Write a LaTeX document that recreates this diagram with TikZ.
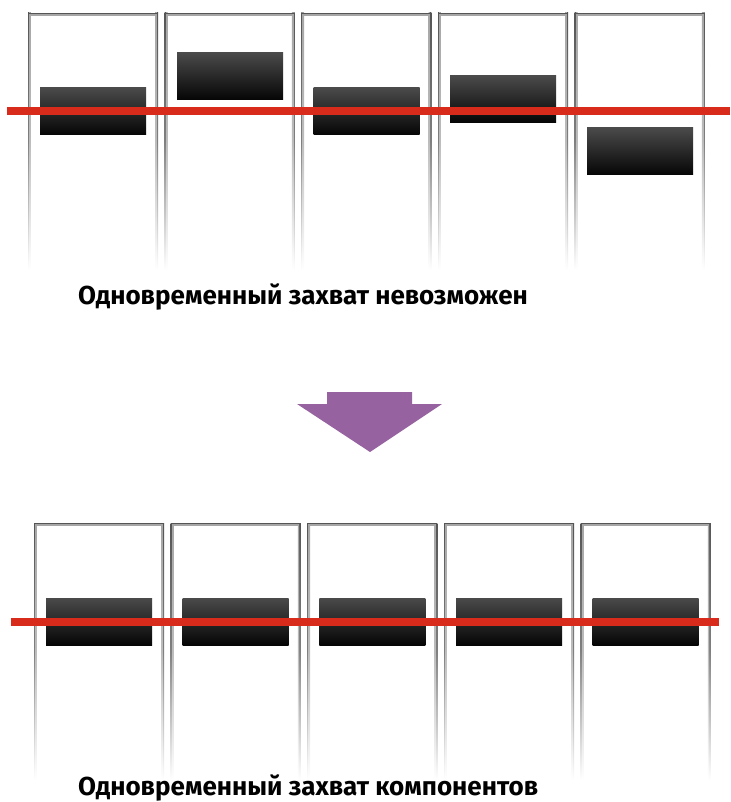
\documentclass[tikz,border=0pt]{standalone}
\usepackage{fontspec}
\setmainfont{Fira Sans}
\definecolor{edgedark}{HTML}{555555}
\definecolor{edgelight}{HTML}{A6A6A6}
\definecolor{blocktop}{HTML}{4A4A4A}
\definecolor{blockbot}{HTML}{050505}
\definecolor{lockred}{HTML}{D92B1C}
\definecolor{arrowpurple}{HTML}{9662A0}
\tikzset{
  panel/.style={minimum width=130, minimum height=257, inner sep=0,
    path picture={
      \fill[top color=edgedark, bottom color=white, middle color=edgedark!75] (path picture bounding box.north west) rectangle ([xshift=1.4pt]path picture bounding box.south west);
      \fill[top color=edgelight, bottom color=white, middle color=edgelight!75] ([xshift=1.4pt]path picture bounding box.north west) rectangle ([xshift=2.8pt]path picture bounding box.south west);
      \fill[top color=edgedark, bottom color=white, middle color=edgedark!75] ([xshift=-1.4pt]path picture bounding box.north east) rectangle (path picture bounding box.south east);
      \fill[top color=edgelight, bottom color=white, middle color=edgelight!75] ([xshift=-2.8pt]path picture bounding box.north east) rectangle ([xshift=-1.4pt]path picture bounding box.south east);
      \fill[edgedark] (path picture bounding box.north west) rectangle ([yshift=-1.4pt]path picture bounding box.north east);
      \fill[edgelight] ([xshift=1.4pt,yshift=-1.4pt]path picture bounding box.north west) rectangle ([xshift=-1.4pt,yshift=-2.8pt]path picture bounding box.north east);
    }},
  block/.style={minimum width=106, minimum height=47, inner sep=0, top color=blocktop, bottom color=blockbot},
  lockline/.style={lockred, line width=8pt},
  caption/.style={anchor=base west, inner sep=0, font=\fontsize{26}{30}\selectfont\bfseries}
}
\begin{document}
\begin{tikzpicture}[x=1pt,y=-1pt]
\useasboundingbox (0,0) rectangle (730,802);
% top row
\node[panel] (t1) at (93,141.5) {};
\node[panel] (t2) at (229.7,141.5) {};
\node[panel] (t3) at (366.3,141.5) {};
\node[panel] (t4) at (503,141.5) {};
\node[panel] (t5) at (639.7,141.5) {};
\node[block] (tb1) at (93,111.5) {};
\node[block] (tb2) at (230,76.5) {};
\node[block] (tb3) at (366.5,111.5) {};
\node[block] (tb4) at (503,99.5) {};
\node[block] (tb5) at (640,151.5) {};
\coordinate (tw) at (7,111.5);
\coordinate (te) at (730,111.5);
\draw[lockline] (tw) -- (te);
\node[caption] (cap1) at (78,304) {Одновременный захват невозможен};
% arrow
\fill[arrowpurple] (327,392) -- (412,392) -- (412,404) -- (442,404) -- (370,452) -- (297,404) -- (327,404) -- cycle;
% bottom row
\node[panel] (b1) at (99,651.5) {};
\node[panel] (b2) at (235.6,651.5) {};
\node[panel] (b3) at (372.3,651.5) {};
\node[panel] (b4) at (509,651.5) {};
\node[panel] (b5) at (645.6,651.5) {};
\node[block] (bb1) at (99,621.5) {};
\node[block] (bb2) at (235.6,621.5) {};
\node[block] (bb3) at (372.3,621.5) {};
\node[block] (bb4) at (509,621.5) {};
\node[block] (bb5) at (645.6,621.5) {};
\coordinate (bw) at (11,621.5);
\coordinate (be) at (719,621.5);
\draw[lockline] (bw) -- (be);
\node[caption] (cap2) at (78,795.5) {Одновременный захват компонентов};
\end{tikzpicture}
\end{document}
